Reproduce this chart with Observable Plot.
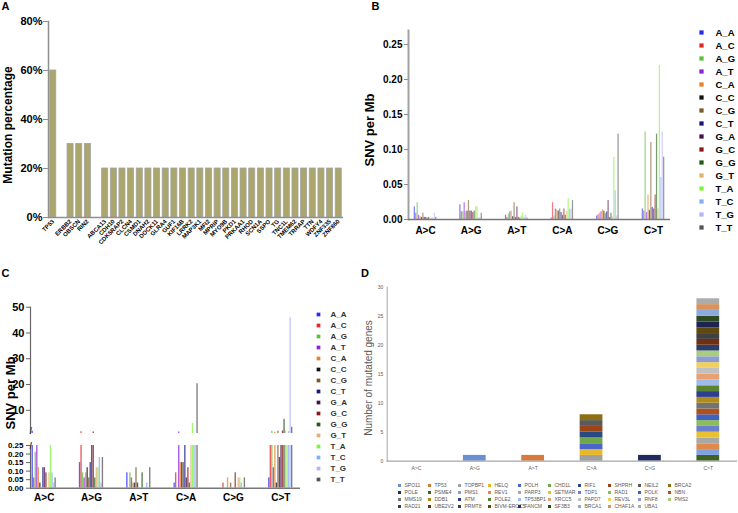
<!DOCTYPE html>
<html><head><meta charset="utf-8">
<script src="https://cdn.jsdelivr.net/npm/d3@7"></script>
<script src="https://cdn.jsdelivr.net/npm/@observablehq/plot@0.6"></script>
<style>
html,body{margin:0;padding:0;background:#fff;}
#root{position:relative;width:738px;height:513px;overflow:hidden;font-family:"Liberation Sans",Arial,sans-serif;}
#root svg{overflow:visible;}
.lbl{position:absolute;font-weight:bold;white-space:nowrap;line-height:1;font-size:11px;color:#000;}
.ylab{position:absolute;white-space:nowrap;line-height:1;transform:translate(-50%,-50%) rotate(-90deg);}
</style></head><body><div id="root"></div>
<script>
// ---------- Panel A data ----------
const genesA = ["TP53","ERBB2","OBSCN","RIN2","ABCA13","CDH10","CDK5RAP2","CLCN4","CSMD1","DNAH2","DOCK11","GLRA4","GUF1","KIF16B","LRRK2","MAP3K1","MFI2","MPRIP","MYO9B","PKD1","PRKAA1","RHOD","SCN1A","SSPO","TG","TNC1L","TMEM62","TRRAP","TTN","WDFY4","ZNF335","ZNF860"];
const pctA = [60,30,30,30,20,20,20,20,20,20,20,20,20,20,20,20,20,20,20,20,20,20,20,20,20,20,20,20,20,20,20,20];
const yTicksA = [0,0.2,0.4,0.6,0.8];

// ---------- Panels B & C data ----------
const mutTypes = ["A>C","A>G","A>T","C>A","C>G","C>T"];
const contexts = ["A_A","A_C","A_G","A_T","C_A","C_C","C_G","C_T","G_A","G_C","G_G","G_T","T_A","T_C","T_G","T_T"];
const contextColors = ["#2b2bf5","#e02a2a","#5cc03a","#8a24dc","#e8802e","#111111","#7a5a2a","#17177a","#46104a","#8a1a1a","#245a18","#e2b070","#7cf53a","#86aef4","#b4b4fa","#555555"];

const snvB_AC = [0.018,0.009,0.024,0.006,0.004,0.003,0.009,0.003,0.003,0.002,0.003,0.002,0.002,0.002,0.009,0.003];
const snvB_AG = [0.021,0.011,0.011,0.024,0.011,0.012,0.027,0.012,0.012,0.010,0.012,0.018,0.018,0.002,0.003,0.009];
const snvB_AT = [0.006,0.003,0.008,0.011,0.012,0.004,0.024,0.003,0.018,0.003,0.002,0.005,0.009,0.003,0.006,0.002];
const snvB_CA = [0.002,0.024,0.005,0.015,0.014,0.012,0.015,0.010,0.006,0.015,0.006,0.012,0.030,0.015,0.015,0.027];
const snvB_CG = [0.005,0.007,0.009,0.011,0.014,0.012,0.009,0.011,0.027,0.003,0.009,0.004,0.089,0.041,0.005,0.122];
const snvB_CT = [0.015,0.012,0.125,0.010,0.035,0.013,0.110,0.017,0.015,0.035,0.122,0.015,0.220,0.060,0.125,0.089];
const yTicksB = [0,0.05,0.10,0.15,0.20,0.25];

const snvC_AC = [1.9,0.06,0.21,0.5,0.12,0.03,0,0.12,0.12,0.09,0,0.09,0.5,0.09,0.03,0.06];
const snvC_AG = [0.15,1.7,0.09,0.06,0.09,0.12,0.06,0.15,0.8,1.6,0.06,0.12,0.12,0.18,0.03,0.18];
const snvC_AT = [0.09,0,0.09,0.06,0.03,0.03,0.12,0.03,0,0,0.09,0,0,0.03,0,0.12];
const snvC_CA = [0.03,0.09,0,1.6,0.15,0.15,0.15,0.6,0.06,0.12,0.03,0.8,4.9,0.7,0.7,20.3];
const snvC_CG = [0,0.03,0,0,0.06,0,0.03,0,0,0.09,0,0.06,0.06,0.03,0,0.06];
const snvC_CT = [0.06,0.6,1.9,0.12,1.5,0.03,1.9,0.18,0.4,2.0,6.5,2.0,0.7,1.8,45.9,3.4];
const yTicksCtop = [10,20,30,40,50];
const yTicksCbottom = [0,0.05,0.10,0.15,0.20,0.25];

// ---------- Panel D data ----------
const genesD = ["SPO11","TP53","TOPBP1","HELQ","POLH","CHD1L","RIF1","SHPRH","NEIL2","BRCA2",
  "POLE","PSME4","PMS1","REV1","PARP3","SETMAR","TDP1","RAD1","POLK","NBN",
  "MMS19","DDB1","ATM","POLE2","TP53BP1","XRCC5","PAPD7","REV3L","RNF8","PMS2",
  "RAD21","UBE2V2","PRMT8","BIVM-ERCC5","FANCM","SF3B3","BRCA1","CHAF1A","UBA1"];
const typeD = ["A>G","A>T","C>A","C>A","C>A","C>A","C>A","C>A","C>A","C>A",
  "C>G","C>T","C>T","C>T","C>T","C>T","C>T","C>T","C>T","C>T",
  "C>T","C>T","C>T","C>T","C>T","C>T","C>T","C>T","C>T","C>T",
  "C>T","C>T","C>T","C>T","C>T","C>T","C>T","C>T","C>T"];
const colorsD = ["#6a8fd4","#d97a3a","#a0a0a0","#e8b82a","#4a66c6","#6fa84a","#2a4a84","#9a4418","#5a5a5a","#8c6e14",
  "#1f2a5e","#3e6224","#7fa3de","#e08a4a","#a8a8a8","#e8c030","#6a80cc","#8cbc5c","#3d62c0","#b0501c",
  "#737373","#b08c1c","#2e3e8e","#5a8430","#a0bce6","#e8a070","#c0c0c0","#f0d060","#8c9cd6","#a8cc80",
  "#2a3e6a","#6e3010","#404040","#5e4a10","#1e2450","#2e4a20","#8eaadc","#d8945c","#acacac"];
const yTicksD = [0,5,10,15,20,25,30];

// ---------- helpers ----------
const FONT = '"Liberation Sans", Arial, sans-serif';
const root = document.getElementById("root");
function put(node, left, top) {
  node.style.position = "absolute";
  node.style.left = left + "px";
  node.style.top = top + "px";
  root.appendChild(node);
}
function label(text, left, top) {
  const d = document.createElement("div");
  d.className = "lbl"; d.textContent = text;
  d.style.left = left + "px"; d.style.top = top + "px";
  root.appendChild(d);
}
function ylabel(text, cx, cy, css) {
  const d = document.createElement("div");
  d.className = "ylab"; d.textContent = text;
  d.style.left = cx + "px"; d.style.top = cy + "px";
  Object.assign(d.style, css);
  root.appendChild(d);
}
function slotDomain(lead, pad, trail) {
  const d = [];
  for (let i = 0; i < lead; i++) d.push("lead" + i);
  mutTypes.forEach((m, g) => {
    contexts.forEach(c => d.push(m + "|" + c));
    if (g < mutTypes.length - 1) for (let i = 0; i < pad; i++) d.push(m + "|pad" + i);
  });
  for (let i = 0; i < trail; i++) d.push("trail" + i);
  return d;
}
function tidy(series) {
  return mutTypes.flatMap((m, g) => contexts.map((c, i) => ({key: m + "|" + c, ctx: c, v: series[g][i]})));
}
const grey = "#8f8f8f";

// ---------- Panel A ----------
const domainA = [genesA[0], "gap1", genesA[1], genesA[2], genesA[3], "gap2", ...genesA.slice(4)];
const dataA = genesA.map((g, i) => ({gene: g, pct: pctA[i] / 100}));
put(Plot.plot({
  width: 370, height: 250, marginLeft: 48, marginRight: 27, marginTop: 21, marginBottom: 33,
  style: {fontFamily: FONT, fontWeight: "bold", background: "transparent", color: "#000"},
  x: {domain: domainA, paddingInner: 0.3, paddingOuter: 0.2, round: false},
  y: {domain: [0, 0.8]},
  marks: [
    Plot.barY(dataA, {x: "gene", y: "pct", fill: "#aba66c", stroke: "#a3a3a3", strokeWidth: 0.8}),
    Plot.frame({anchor: "left", stroke: grey, strokeWidth: 1.5}),
    Plot.ruleY([0], {stroke: grey, strokeWidth: 1.5}),
    Plot.axisY({ticks: yTicksA, tickFormat: d3.format(".0%"), tickSize: 5, tickPadding: 1, fontSize: 11, label: null, stroke: grey}),
    Plot.axisX({tickRotate: -45, tickSize: 0, tickPadding: 3, fontSize: 6, label: null, tickFormat: d => d.startsWith("gap") ? "" : d})
  ]
}), 0, 0);
label("A", 1.5, 1.3);
ylabel("Mutation percentage", 8, 125, {fontSize: "12px", fontWeight: "bold"});

// ---------- Panel B ----------
const dataB = tidy([snvB_AC, snvB_AG, snvB_AT, snvB_CA, snvB_CG, snvB_CT]);
put(Plot.plot({
  width: 368, height: 250, marginLeft: 38, marginRight: 68, marginTop: 30, marginBottom: 31,
  style: {fontFamily: FONT, fontWeight: "bold", background: "transparent", color: "#000"},
  x: {domain: slotDomain(4, 16, 4), paddingInner: 0.12, paddingOuter: 0, round: false},
  y: {domain: [0, 0.27]},
  color: {domain: contexts, range: contextColors},
  marks: [
    Plot.barY(dataB, {x: "key", y: "v", fill: "ctx", fillOpacity: 0.6}),
    Plot.frame({anchor: "left", stroke: "#a0a0a0", strokeWidth: 2}),
    Plot.ruleY([0], {stroke: "#777", strokeWidth: 1.5}),
    Plot.axisY({ticks: yTicksB, tickFormat: d3.format(".2f"), tickSize: 4, tickPadding: 2, fontSize: 10, label: null, stroke: grey}),
    Plot.axisX({ticks: mutTypes.map(m => m + "|G_A"), tickFormat: d => d.split("|")[0], tickSize: 0, tickPadding: 7, fontSize: 10, label: null, dx: -0.7})
  ]
}), 370, 0);
label("B", 371.5, 1.3);
ylabel("SNV per Mb", 369, 130, {fontSize: "13px", fontWeight: "bold"});

// legend B
put(Plot.plot({
  width: 48, height: 220, marginLeft: 11, marginRight: 0, marginTop: 9, marginBottom: 11,
  style: {fontFamily: FONT, fontWeight: "bold", background: "transparent", color: "#000"},
  y: {type: "point", domain: contexts, padding: 0, axis: null},
  color: {domain: contexts, range: contextColors},
  marks: [
    Plot.dot(contexts, {y: d => d, fill: d => d, symbol: "square", r: 2.4, frameAnchor: "left"}),
    Plot.text(contexts, {y: d => d, text: d => d, frameAnchor: "left", dx: 14, textAnchor: "start", fontSize: 9.5})
  ]
}), 690, 20);

// ---------- Panel C ----------
const dataC = tidy([snvC_AC, snvC_AG, snvC_AT, snvC_CA, snvC_CG, snvC_CT]);
const domC = slotDomain(1, 15, 5);
put(Plot.plot({
  width: 310, height: 140, marginLeft: 30, marginRight: 10, marginTop: 11.7, marginBottom: 2,
  style: {fontFamily: FONT, fontWeight: "bold", background: "transparent", color: "#000"},
  x: {domain: domC, paddingInner: 0.1, paddingOuter: 0, round: false, axis: null},
  y: {domain: [1, 50]},
  color: {domain: contexts, range: contextColors},
  marks: [
    Plot.barY(dataC, {x: "key", y: "v", fill: "ctx", fillOpacity: 0.75, clip: true}),
    Plot.frame({anchor: "left", stroke: "#666", strokeWidth: 1.2}),
    Plot.axisY({ticks: yTicksCtop, tickSize: 4, tickPadding: 2, fontSize: 11, label: null, stroke: "#666"}),
    Plot.text(["/"], {text: d => d, frameAnchor: "bottom-left", fontSize: 9, dx: -1, fill: "#444"})
  ]
}), 0, 295);
put(Plot.plot({
  width: 310, height: 77, marginLeft: 30, marginRight: 10, marginTop: 9, marginBottom: 25.3,
  style: {fontFamily: FONT, fontWeight: "bold", background: "transparent", color: "#000"},
  x: {domain: domC, paddingInner: 0.1, paddingOuter: 0, round: false},
  y: {domain: [0, 0.25]},
  color: {domain: contexts, range: contextColors},
  marks: [
    Plot.barY(dataC, {x: "key", y: "v", fill: "ctx", fillOpacity: 0.75, clip: true}),
    Plot.frame({anchor: "left", stroke: "#666", strokeWidth: 1.2}),
    Plot.ruleY([0], {stroke: "#777", strokeWidth: 1.5}),
    Plot.axisY({ticks: yTicksCbottom, tickFormat: d3.format(".2f"), tickSize: 4, tickPadding: 3, fontSize: 8, label: null, stroke: "#666"}),
    Plot.axisX({ticks: mutTypes.map(m => m + "|G_A"), tickFormat: d => d.split("|")[0], tickSize: 0, tickPadding: 6, fontSize: 10, label: null, dx: -0.7}),
    Plot.text(["/"], {text: d => d, frameAnchor: "top-left", fontSize: 9, dx: -1, dy: -3, fill: "#444"})
  ]
}), 0, 436);
label("C", 1.5, 267.6);
ylabel("SNV per Mb", 10, 393, {fontSize: "13px", fontWeight: "bold"});

// legend C
put(Plot.plot({
  width: 60, height: 195, marginLeft: 13, marginRight: 0, marginTop: 7, marginBottom: 9.4,
  style: {fontFamily: FONT, fontWeight: "bold", background: "transparent", color: "#333"},
  y: {type: "point", domain: contexts, padding: 0, axis: null},
  color: {domain: contexts, range: contextColors},
  marks: [
    Plot.dot(contexts, {y: d => d, fill: d => d, symbol: "square", r: 2.1, frameAnchor: "left"}),
    Plot.text(contexts, {y: d => d, text: d => d, frameAnchor: "left", dx: 12, textAnchor: "start", fontSize: 8})
  ]
}), 305, 300);

// ---------- Panel D ----------
const dataD = genesD.map((g, i) => ({gene: g, type: typeD[i]}));
put(Plot.plot({
  width: 378, height: 215, marginLeft: 26.7, marginRight: 1, marginTop: 16.7, marginBottom: 24.3,
  style: {fontFamily: FONT, fontWeight: "normal", background: "transparent", color: "#595959"},
  x: {domain: mutTypes, paddingInner: 0.61, paddingOuter: 0.305, round: false},
  y: {domain: [0, 30]},
  color: {domain: genesD, range: colorsD},
  marks: [
    Plot.barY(dataD, Plot.groupX({y: "count"}, {x: "type", fill: "gene"})),
    Plot.frame({anchor: "left", stroke: "#a6a6a6", strokeWidth: 1}),
    Plot.ruleY([0], {stroke: "#a6a6a6", strokeWidth: 1.2}),
    Plot.axisY({ticks: yTicksD, tickSize: 0, tickPadding: 4, fontSize: 5, label: null, fill: "#595959"}),
    Plot.axisX({tickSize: 0, tickPadding: 5, fontSize: 5, label: null, fill: "#595959"})
  ]
}), 360, 270);
label("D", 361, 267.6);
ylabel("Number of mutated genes", 369, 378, {fontSize: "10px", color: "#595959"});

// legend D
const legD = genesD.map((g, i) => ({gene: g, col: i % 10, row: Math.floor(i / 10)}));
put(Plot.plot({
  width: 362, height: 43, marginLeft: 0, marginRight: 0, marginTop: 0, marginBottom: 0,
  style: {fontFamily: FONT, background: "transparent", color: "#595959"},
  x: {type: "point", domain: [0,1,2,3,4,5,6,7,8,9], range: [6.7, 310], axis: null},
  y: {type: "point", domain: [0,1,2,3], range: [9.3, 40.7], axis: null},
  color: {domain: genesD, range: colorsD},
  marks: [
    Plot.dot(legD, {x: "col", y: "row", fill: "gene", symbol: "square", r: 1.7}),
    Plot.text(legD, {x: "col", y: "row", text: "gene", dx: 5, textAnchor: "start", fontSize: 5, fill: "#595959"})
  ]
}), 376, 470);
</script></body></html>
